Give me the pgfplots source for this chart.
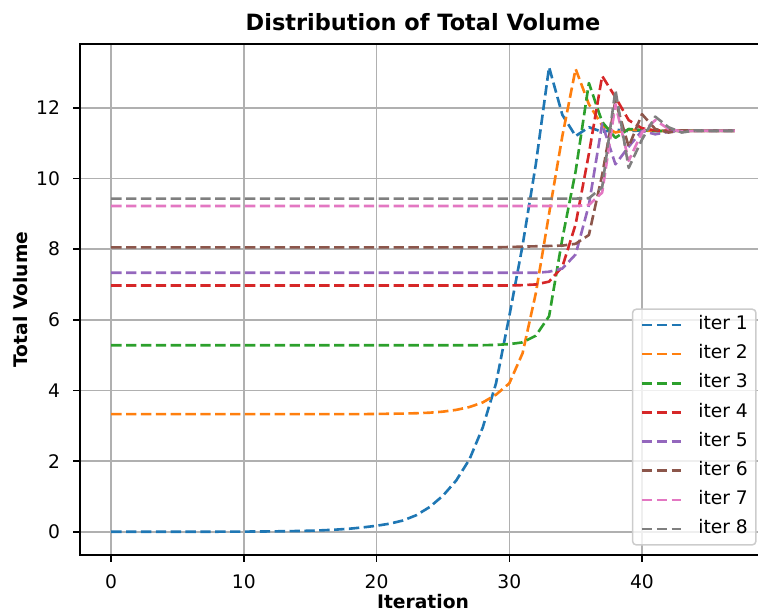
\documentclass[border=0pt]{standalone}
\usepackage{pgfplots}
\pgfplotsset{compat=1.18}
\usepackage{pgfplotstable}
\usepackage{fontspec}
\setmainfont{DejaVu Sans}
\definecolor{c1}{HTML}{1F77B4}
\definecolor{c2}{HTML}{FF7F0E}
\definecolor{c3}{HTML}{2CA02C}
\definecolor{c4}{HTML}{D62728}
\definecolor{c5}{HTML}{9467BD}
\definecolor{c6}{HTML}{8C564B}
\definecolor{c7}{HTML}{E377C2}
\definecolor{c8}{HTML}{7F7F7F}
\definecolor{gridgray}{HTML}{B0B0B0}
\definecolor{legedge}{HTML}{CCCCCC}

\pgfplotstableread{
x  i1     i2     i3    i4    i5    i6    i7    i8
0  0.000  3.33   5.28  6.97  7.33  8.05  9.22  9.43
1  0.000  3.33   5.28  6.97  7.33  8.05  9.22  9.43
2  0.000  3.33   5.28  6.97  7.33  8.05  9.22  9.43
3  0.000  3.33   5.28  6.97  7.33  8.05  9.22  9.43
4  0.000  3.33   5.28  6.97  7.33  8.05  9.22  9.43
5  0.001  3.33   5.28  6.97  7.33  8.05  9.22  9.43
6  0.001  3.33   5.28  6.97  7.33  8.05  9.22  9.43
7  0.002  3.33   5.28  6.97  7.33  8.05  9.22  9.43
8  0.002  3.33   5.28  6.97  7.33  8.05  9.22  9.43
9  0.003  3.33   5.28  6.97  7.33  8.05  9.22  9.43
10 0.005  3.33   5.28  6.97  7.33  8.05  9.22  9.43
11 0.007  3.33   5.28  6.97  7.33  8.05  9.22  9.43
12 0.010  3.33   5.28  6.97  7.33  8.05  9.22  9.43
13 0.015  3.33   5.28  6.97  7.33  8.05  9.22  9.43
14 0.021  3.33   5.28  6.97  7.33  8.05  9.22  9.43
15 0.030  3.33   5.28  6.97  7.33  8.05  9.22  9.43
16 0.043  3.33   5.28  6.97  7.33  8.05  9.22  9.43
17 0.062  3.33   5.28  6.97  7.33  8.05  9.22  9.43
18 0.088  3.33   5.28  6.97  7.33  8.05  9.22  9.43
19 0.125  3.33   5.28  6.97  7.33  8.05  9.22  9.43
20 0.170  3.335  5.28  6.97  7.33  8.05  9.22  9.43
21 0.230  3.34   5.28  6.97  7.33  8.05  9.22  9.43
22 0.320  3.345  5.28  6.97  7.33  8.05  9.22  9.43
23 0.470  3.355  5.28  6.97  7.33  8.05  9.22  9.43
24 0.700  3.37   5.28  6.97  7.33  8.05  9.22  9.43
25 1.020  3.40   5.28  6.97  7.33  8.05  9.22  9.43
26 1.450  3.45   5.28  6.97  7.33  8.05  9.22  9.43
27 2.050  3.53   5.28  6.97  7.33  8.05  9.22  9.43
28 2.950  3.66   5.28  6.97  7.33  8.05  9.22  9.43
29 4.200  3.88   5.29  6.97  7.33  8.05  9.22  9.43
30 6.100  4.20   5.31  6.97  7.33  8.06  9.22  9.43
31 8.100  5.05   5.36  6.98  7.33  8.07  9.22  9.43
32 10.400 6.75   5.55  7.00  7.33  8.08  9.22  9.43
33 13.150 9.00   6.10  7.08  7.36  8.09  9.22  9.43
34 11.800 11.20  8.30  7.50  7.45  8.10  9.22  9.43
35 11.200 13.10  10.20 8.70  7.85  8.15  9.22  9.43
36 11.450 12.10  12.70 10.70 9.25  8.40  9.25  9.44
37 11.320 11.50  11.60 12.90 11.55 10.10 9.60  9.75
38 11.380 11.30  11.15 12.30 10.40 12.20 12.10 12.50
39 11.340 11.38  11.40 11.65 10.90 10.90 10.50 10.30
40 11.360 11.36  11.37 11.42 11.35 11.82 11.30 11.10
41 11.350 11.34  11.34 11.36 11.25 11.40 11.65 11.75
42 11.350 11.35  11.35 11.35 11.32 11.30 11.40 11.45
43 11.350 11.35  11.35 11.35 11.35 11.36 11.33 11.30
44 11.350 11.35  11.35 11.35 11.35 11.35 11.35 11.36
45 11.350 11.35  11.35 11.35 11.35 11.35 11.35 11.35
46 11.350 11.35  11.35 11.35 11.35 11.35 11.35 11.35
47 11.350 11.35  11.35 11.35 11.35 11.35 11.35 11.35
}\data

\begin{document}
\begin{tikzpicture}
\begin{axis}[
  name=ax,
  at={(0pt,0pt)}, anchor=south west,
  scale only axis,
  width=367pt, height=273.4pt,
  xmin=-2.35, xmax=49.35,
  ymin=-0.6575, ymax=13.8075,
  xtick={0,10,20,30,40},
  ytick={0,2,4,6,8,10,12},
  /pgf/number format/assume math mode=true,
  tick align=outside,
  tick pos=left,
  major tick length=3.5pt,
  every tick/.style={black, line width=0.8pt},
  axis line style={line width=0.8pt, black},
  grid=major,
  major grid style={line width=0.8pt, color=gridgray},
  ticklabel style={font=\fontsize{10}{12}\selectfont},
  xticklabel style={inner sep=0pt, yshift=-7pt},
  yticklabel style={inner sep=0pt, xshift=-7pt},
  title={Distribution of Total Volume},
  every axis title/.style={at={(axis description cs:0.5,1)}, anchor=base, yshift=7pt, inner sep=0pt, font=\bfseries\fontsize{12}{14.4}\selectfont},
  xlabel={Iteration},
  ylabel={Total Volume},
  every axis x label/.style={at={(axis description cs:0.5,0)}, anchor=base, yshift=-28.6pt, inner sep=0pt, font=\bfseries\fontsize{10}{12}\selectfont},
  every axis y label/.style={at={(axis description cs:-0.0760,0.5)}, rotate=90, anchor=base, inner sep=0pt, font=\bfseries\fontsize{10}{12}\selectfont},
  legend cell align=left,
  legend image code/.code={\draw[#1] (0pt,0pt) -- (20.9pt,0pt);},
  legend style={at={(axis description cs:1,0)}, anchor=south east, xshift=-5pt, yshift=5pt,
    draw=legedge, line width=0.8pt, rounded corners=2pt, fill=white, fill opacity=0.8, text opacity=1,
    font=\fontsize{10}{12}\selectfont,
    inner xsep=4.3pt, inner ysep=3.6pt, row sep=5.9pt, column sep=8.6pt,
    nodes={inner sep=0pt, text height=7.3pt, text depth=2.4pt}},
  every axis plot/.append style={line width=1.4pt, dash pattern=on 5.55pt off 2.4pt, line join=round},
]
\addplot[c1] table[x=x,y=i1]{\data}; \addlegendentry{iter 1}
\addplot[c2] table[x=x,y=i2]{\data}; \addlegendentry{iter 2}
\addplot[c3] table[x=x,y=i3]{\data}; \addlegendentry{iter 3}
\addplot[c4] table[x=x,y=i4]{\data}; \addlegendentry{iter 4}
\addplot[c5] table[x=x,y=i5]{\data}; \addlegendentry{iter 5}
\addplot[c6] table[x=x,y=i6]{\data}; \addlegendentry{iter 6}
\addplot[c7] table[x=x,y=i7]{\data}; \addlegendentry{iter 7}
\addplot[c8] table[x=x,y=i8]{\data}; \addlegendentry{iter 8}
\end{axis}
\pgfresetboundingbox
\path[use as bounding box] (-42.8pt,-30.5pt) rectangle (362.7pt,296.9pt);
\end{tikzpicture}
\end{document}
